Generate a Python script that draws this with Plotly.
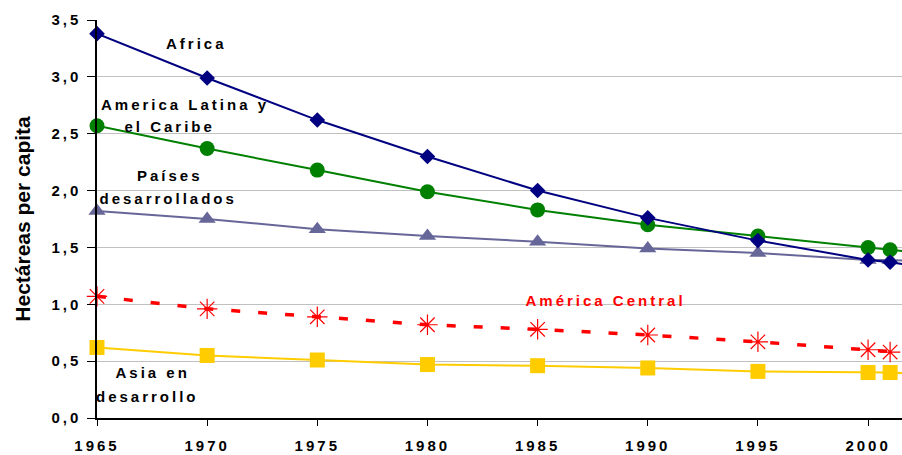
import plotly.graph_objects as go

years = [1965, 1970, 1975, 1980, 1985, 1990, 1995, 2000, 2001, 2002]
africa = [3.38, 2.99, 2.62, 2.30, 2.00, 1.76, 1.56, 1.39, 1.37, 1.34]
america_latina = [2.57, 2.37, 2.18, 1.99, 1.83, 1.70, 1.60, 1.50, 1.48, 1.46]
paises_desarrollados = [1.82, 1.75, 1.66, 1.60, 1.55, 1.49, 1.45, 1.39, 1.39, 1.38]
america_central = [1.07, 0.96, 0.89, 0.82, 0.78, 0.73, 0.67, 0.60, 0.58, 0.57]
asia = [0.62, 0.55, 0.51, 0.47, 0.46, 0.44, 0.41, 0.40, 0.40, 0.39]

x_ticks = [1965, 1970, 1975, 1980, 1985, 1990, 1995, 2000]
y_ticks = [0.0, 0.5, 1.0, 1.5, 2.0, 2.5, 3.0, 3.5]
y_tick_labels = ["0,0", "0,5", "1,0", "1,5", "2,0", "2,5", "3,0", "3,5"]

FONT = "Arial, Liberation Sans, sans-serif"

fig = go.Figure()

def add(name, ys, color, symbol, size, dash="solid", width=2, mline=None):
    marker = dict(color=color, symbol=symbol, size=size)
    if mline:
        marker["line"] = dict(color=color, width=mline)
    fig.add_trace(go.Scatter(
        x=years, y=ys, name=name, mode="lines+markers",
        line=dict(color=color, width=width, dash=dash),
        marker=marker, cliponaxis=False, showlegend=False))

add("Asia en desarrollo", asia, "#FFCC00", "square", 15)
add("América Central", america_central, "#FF0000", "asterisk-open", 17,
    dash="9px,18px", width=3.5, mline=1.2)
add("Países desarrollados", paises_desarrollados, "#666699", "triangle-up", 15)
add("America Latina y el Caribe", america_latina, "#008000", "circle", 15)
add("Africa", africa, "#000080", "diamond", 12)

annos = [
    ("Africa", 1969.5, 3.29, "black"),
    ("America Latina y", 1969.0, 2.76, "black"),
    ("el Caribe", 1968.3, 2.56, "black"),
    ("Países", 1968.3, 2.13, "black"),
    ("desarrollados", 1968.2, 1.93, "black"),
    ("América Central", 1988.1, 1.03, "#FF0000"),
    ("Asia en", 1967.5, 0.40, "black"),
    ("desarrollo", 1967.3, 0.19, "black"),
]
for text, x, y, c in annos:
    fig.add_annotation(x=x, y=y, text=text, showarrow=False,
                       font=dict(family=FONT, size=15, color=c, weight="bold"),
                       xanchor="center", yanchor="middle", align="center")

tick_font = dict(family=FONT, size=15, color="black", weight="bold")
fig.update_layout(
    width=902, height=455,
    margin=dict(l=97, r=0, t=20, b=37),
    paper_bgcolor="white", plot_bgcolor="white",
    xaxis=dict(range=[1965, 2001.54], tickvals=x_ticks, ticks="outside", ticklen=6,
               ticklabelstandoff=7,
               tickcolor="black", showline=True, linecolor="black", linewidth=1.5,
               showgrid=False, zeroline=False, tickfont=tick_font),
    yaxis=dict(range=[0, 3.5], tickvals=y_ticks, ticktext=y_tick_labels, ticks="outside",
               ticklen=8, ticklabelstandoff=3, tickcolor="black", showline=True,
               linecolor="black", linewidth=1.5,
               showgrid=True, gridcolor="#C0C0C0", gridwidth=1, zeroline=False,
               tickfont=tick_font,
               title=dict(text="Hectáreas per capita", standoff=24,
                          font=dict(family=FONT, size=21, color="black", weight="bold"))),
)

post = """
document.body.style.margin = '0';
var st = document.createElement('style');
st.textContent = '.xtick text, .ytick text, .annotation-text { letter-spacing: 3px !important; }';
document.head.appendChild(st);
"""

fig.write_html("out.html", post_script=post, config={"displayModeBar": False})
